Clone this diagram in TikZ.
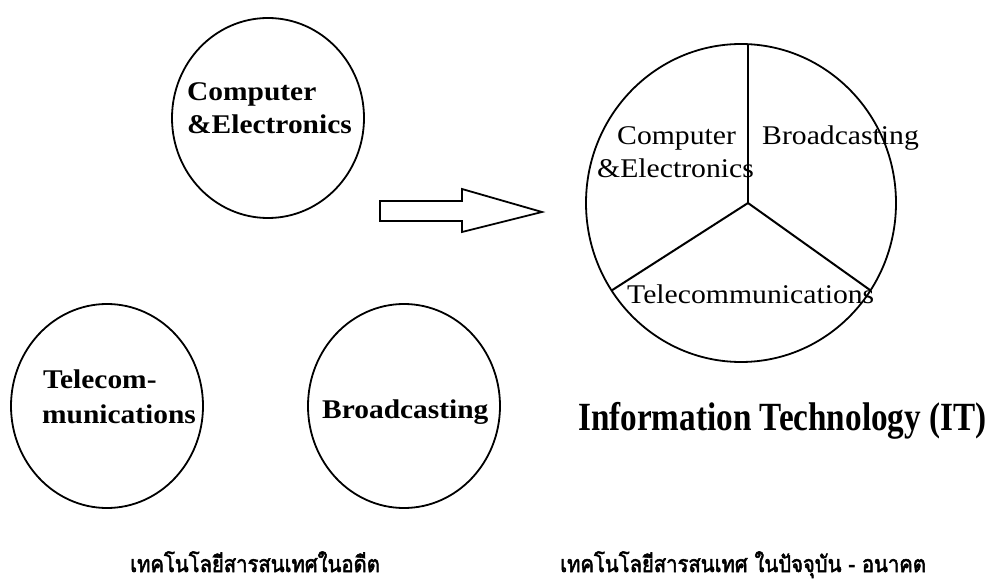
\documentclass[tikz,border=0pt]{standalone}
\usepackage{fontspec}
\setmainfont{Liberation Serif}
\newfontfamily\thaibold[Script=Thai,FakeBold=2.5]{Loma}
\usetikzlibrary{shapes.geometric}
\tikzset{
  circ/.style={draw, ellipse, line width=1.8pt, inner sep=0pt},
  spoke/.style={line width=2pt},
  boldlbl/.style={anchor=base west, inner sep=0pt, font=\fontsize{27}{30}\selectfont\bfseries},
  reglbl/.style={anchor=base west, inner sep=0pt, font=\fontsize{27}{30}\selectfont},
  thailbl/.style={anchor=base west, inner sep=0pt, font=\fontsize{23}{26}\selectfont\thaibold},
}
\newcommand{\wideB}[1]{\scalebox{1.09}[1]{#1}}
\newcommand{\wideR}[1]{\scalebox{1.1}[1]{#1}}
\newcommand{\narrowT}[1]{\scalebox{0.88}[1]{#1}}
\begin{document}
\begin{tikzpicture}[x=1pt,y=-1pt]
\useasboundingbox[fill=white] (0,0) rectangle (993,585);
% old separate circles
\node[circ, minimum width=192, minimum height=200] (ce) at (268,118) {};
\node[circ, minimum width=192, minimum height=204] (tc) at (107,406) {};
\node[circ, minimum width=192, minimum height=204] (bc) at (404,406) {};
\node[boldlbl] (ce1) at (187,101) {\wideB{Computer}};
\node[boldlbl] (ce2) at (187,134) {\wideB{\&Electronics}};
\node[boldlbl] (tc1) at (43,388) {\wideB{Telecom-}};
\node[boldlbl] (tc2) at (42,423) {\wideB{munications}};
\node[boldlbl] (bc1) at (322,418) {\wideB{Broadcasting}};
% block arrow
\draw[line width=1.8pt, line join=miter] (380,201) -- (462,201) -- (462,189) -- (542,212)
  -- (462,232) -- (462,221) -- (380,221) -- cycle;
% combined circle
\node[circ, minimum width=310, minimum height=318] (it) at (741,203) {};
\coordinate (hub) at (748,203);
\coordinate (ptop) at (748,44);
\coordinate (pll) at (611.6,290.5);
\coordinate (plr) at (870.5,290.4);
\draw[spoke] (hub) -- (ptop);
\draw[spoke] (hub) -- (pll);
\draw[spoke] (hub) -- (plr);
\node[reglbl] (it1) at (617,145) {\wideR{Computer}};
\node[reglbl] (it2) at (597,178) {\wideR{\&Electronics}};
\node[reglbl] (it3) at (762,145) {\wideR{Broadcasting}};
\node[reglbl] (it4) at (627,303) {\wideR{Telecommunications}};
\node[anchor=base west, inner sep=0pt, font=\fontsize{40}{44}\selectfont\bfseries] (ittitle) at (578,430) {\scalebox{0.83}[1]{Information Technology (IT)}};
% Thai captions
\node[thailbl] (th1) at (130,572) {\narrowT{เทคโนโลยีสารสนเทศในอดีต}};
\node[thailbl] (th2) at (560,572) {\narrowT{เทคโนโลยีสารสนเทศ ในปัจจุบัน - อนาคต}};
\end{tikzpicture}
\end{document}
